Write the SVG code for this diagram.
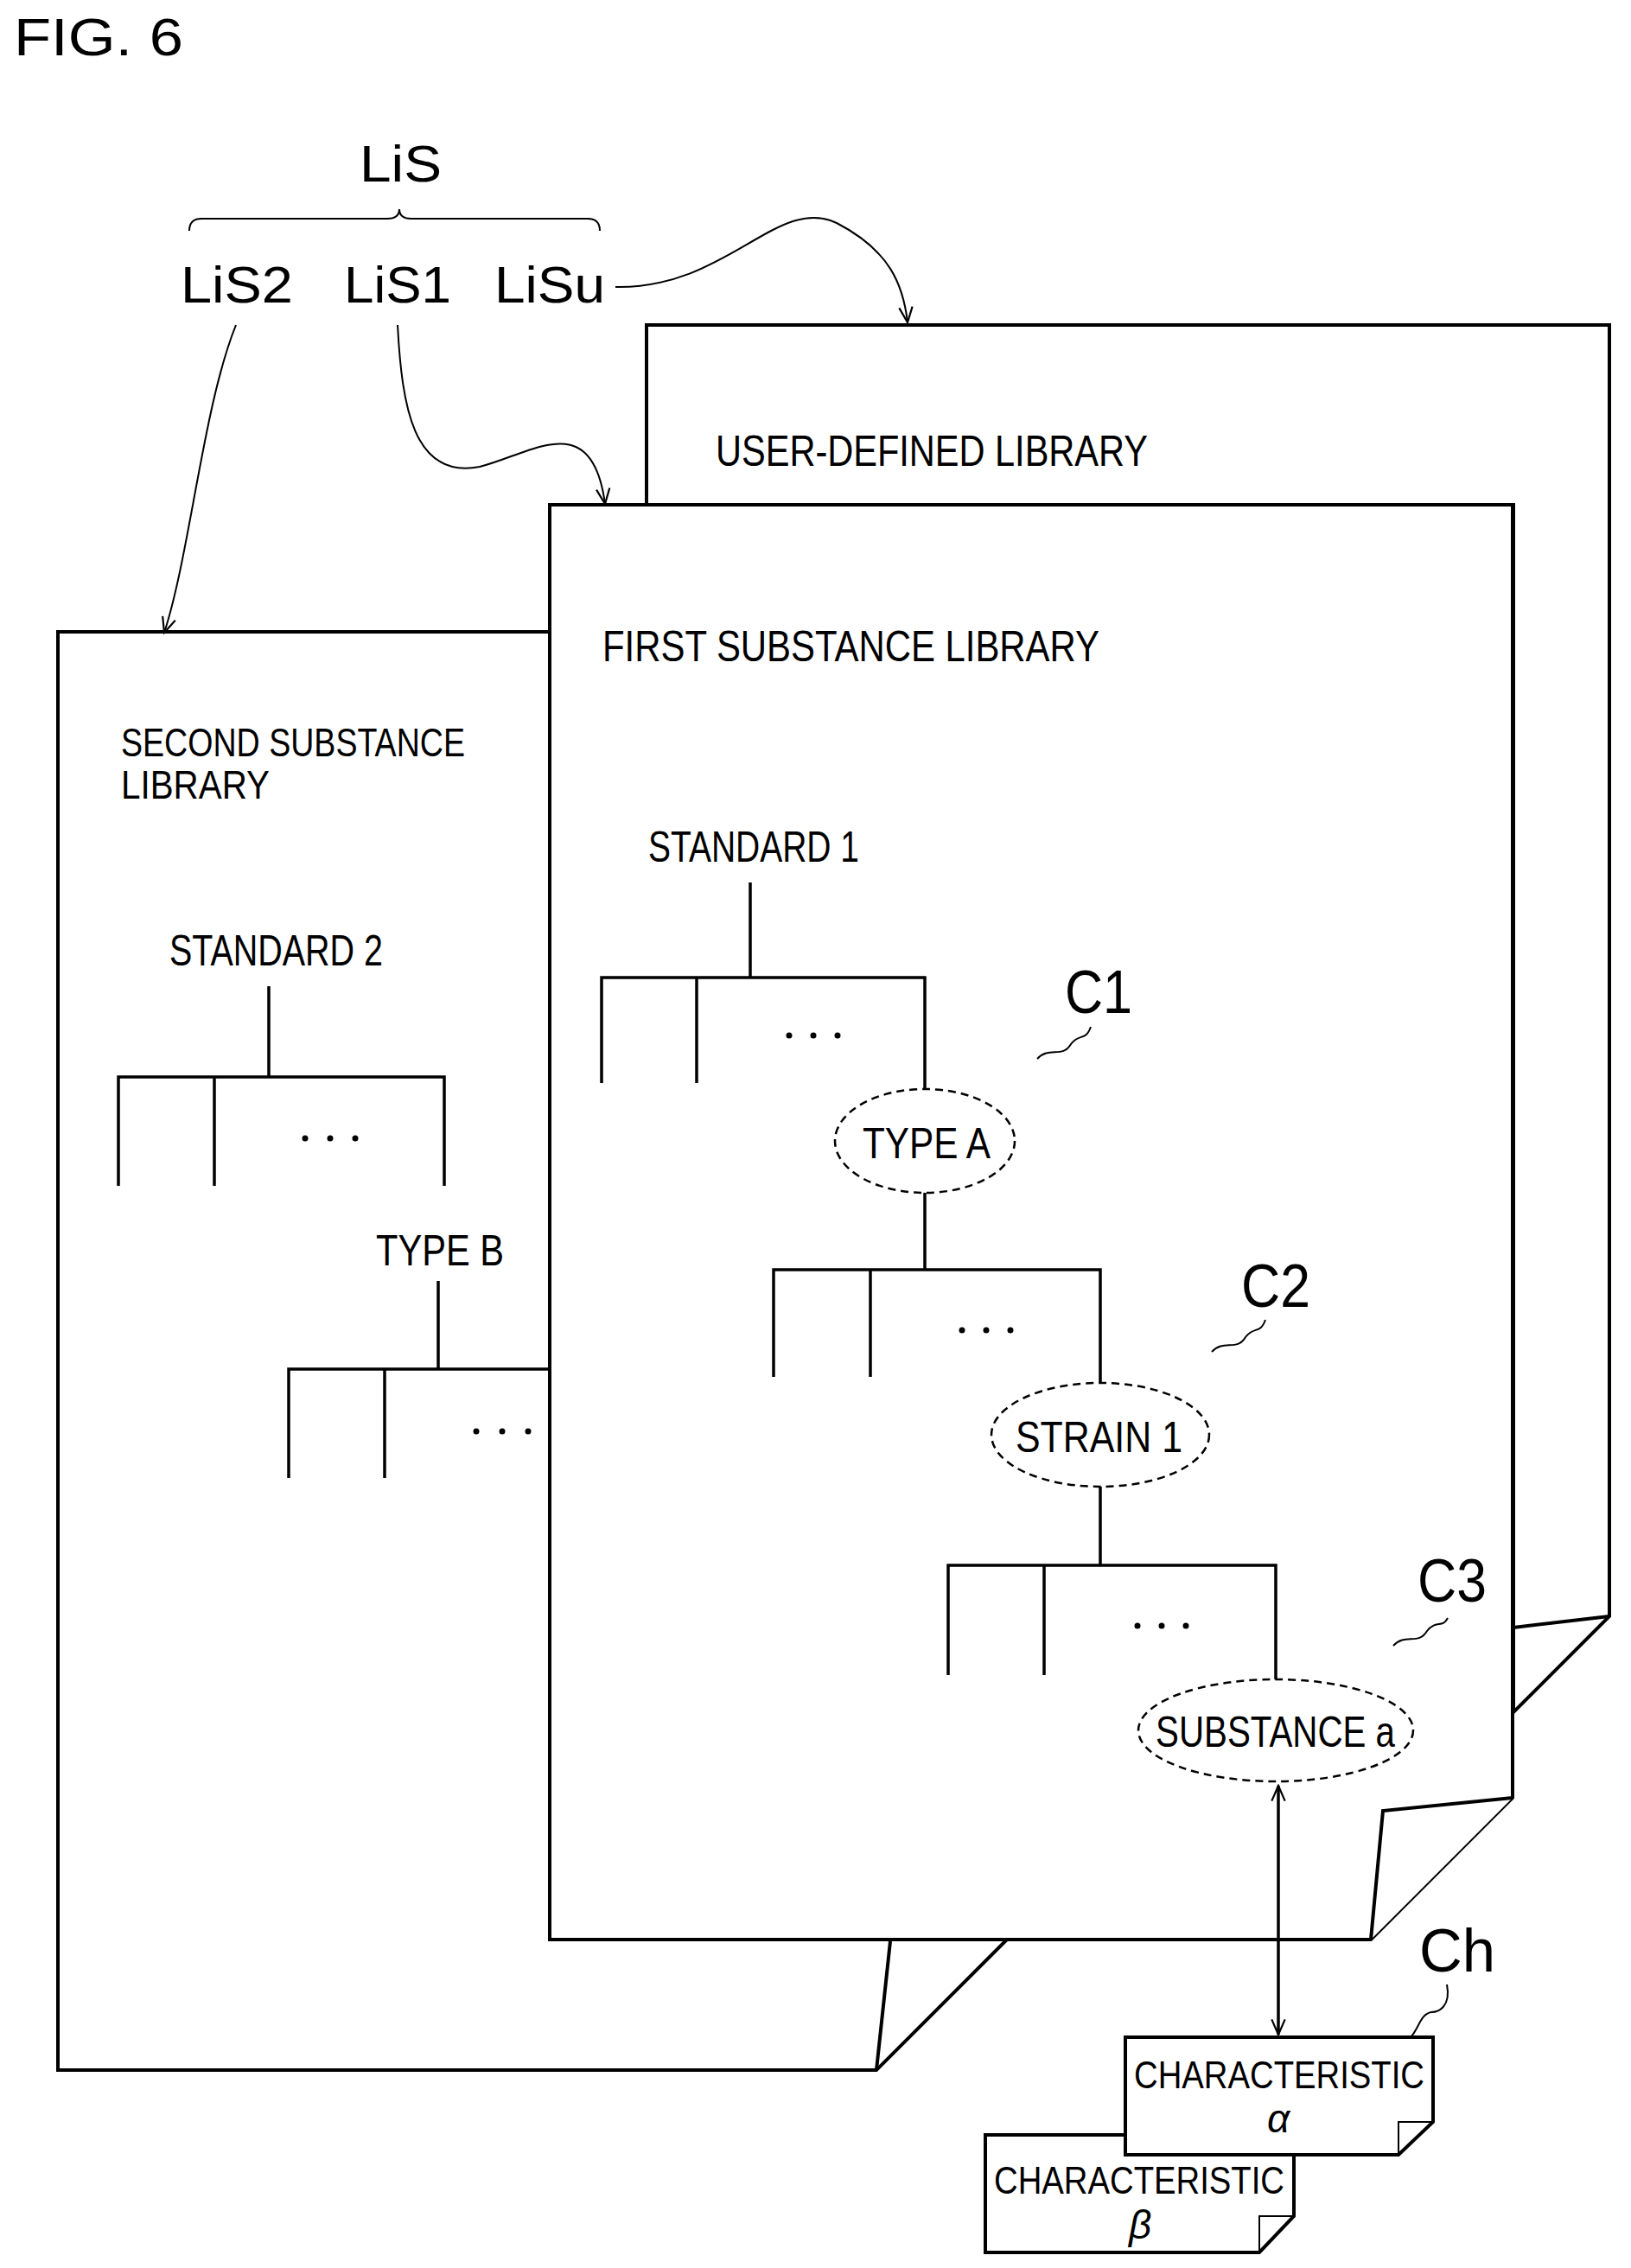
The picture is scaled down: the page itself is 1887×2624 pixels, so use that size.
<svg xmlns="http://www.w3.org/2000/svg" width="1887" height="2624" viewBox="0 0 1887 2624">
<style>
.pg{fill:#fff;stroke:#000;stroke-width:4;stroke-linejoin:miter}
.ln{fill:none;stroke:#000;stroke-width:3.5}
.th{fill:none;stroke:#000;stroke-width:2}
.el{fill:#fff;stroke:#000;stroke-width:2.5;stroke-dasharray:9,6}
.t{font-family:"Liberation Sans",Arial,sans-serif;fill:#000}
.c{font-family:"Liberation Sans",Arial,sans-serif;font-size:70px;fill:#000}
.big{font-family:"Liberation Sans",Arial,sans-serif;font-size:60px;fill:#000}
.dot{fill:#000}
</style>
<defs>
<marker id="ah" viewBox="0 0 20 20" refX="18" refY="10" markerWidth="22" markerHeight="22" markerUnits="userSpaceOnUse" orient="auto-start-reverse">
<path d="M2,3 L18,10 L2,17" fill="none" stroke="#000" stroke-width="2"/>
</marker>
</defs>
<rect width="1887" height="2624" fill="#fff"/>
<text class="t" x="16" y="64" font-size="62" textLength="196" lengthAdjust="spacingAndGlyphs">FIG. 6</text>

<g id="lis">
<text class="big" x="416" y="210" textLength="95" lengthAdjust="spacingAndGlyphs">LiS</text>
<path class="th" d="M219,267 Q219,253 233,253 L448,253 Q462,253 462,242 Q462,253 476,253 L680,253 Q694,253 694,267"/>
<text class="big" x="209" y="350" textLength="130" lengthAdjust="spacingAndGlyphs">LiS2</text>
<text class="big" x="398" y="350" textLength="124" lengthAdjust="spacingAndGlyphs">LiS1</text>
<text class="big" x="572" y="350" textLength="128" lengthAdjust="spacingAndGlyphs">LiSu</text>
</g>

<g id="user-library">
<path class="pg" d="M748,584 L748,376 L1862,376 L1862,1870 L1751,1981 L1751,584 Z"/>
<path class="pg" d="M1751,1883 L1862,1870"/>
<text class="t" x="828" y="539" font-size="50" textLength="500" lengthAdjust="spacingAndGlyphs">USER-DEFINED LIBRARY</text>
</g>

<g id="second-library">
<path class="pg" d="M636,731 L67,731 L67,2395 L1014,2395 L1165,2244 L636,2244 Z"/>
<path class="pg" d="M1014,2395 L1030,2246"/>
<text class="t" x="140" y="875" font-size="46" textLength="398" lengthAdjust="spacingAndGlyphs">SECOND SUBSTANCE</text>
<text class="t" x="140" y="924" font-size="46" textLength="172" lengthAdjust="spacingAndGlyphs">LIBRARY</text>
<text class="t" x="196" y="1117" font-size="50" textLength="247" lengthAdjust="spacingAndGlyphs">STANDARD 2</text>
<path class="ln" d="M311,1141 L311,1246 M137,1372 L137,1246 L514,1246 L514,1372 M248,1246 L248,1372"/>
<circle class="dot" cx="353" cy="1317" r="3.5"/><circle class="dot" cx="382" cy="1317" r="3.5"/><circle class="dot" cx="411" cy="1317" r="3.5"/>
<text class="t" x="435" y="1464" font-size="50" textLength="148" lengthAdjust="spacingAndGlyphs">TYPE B</text>
<path class="ln" d="M507,1482 L507,1584 M334,1710 L334,1584 L636,1584 M445,1584 L445,1710"/>
<circle class="dot" cx="551" cy="1656" r="3.5"/><circle class="dot" cx="581" cy="1656" r="3.5"/><circle class="dot" cx="611" cy="1656" r="3.5"/>
</g>

<g id="first-library">
<path class="pg" d="M636,584 L1750,584 L1750,2080 L1586,2244 L636,2244 Z"/>
<path class="pg" d="M1586,2244 L1600,2095 L1750,2080"/>
<text class="t" x="697" y="765" font-size="50" textLength="575" lengthAdjust="spacingAndGlyphs">FIRST SUBSTANCE LIBRARY</text>
<text class="t" x="750" y="997" font-size="50" textLength="244" lengthAdjust="spacingAndGlyphs">STANDARD 1</text>
<path class="ln" d="M868,1021 L868,1131 M696,1253 L696,1131 L1070,1131 L1070,1260 M806,1131 L806,1253"/>
<circle class="dot" cx="913" cy="1198" r="3.5"/><circle class="dot" cx="941" cy="1198" r="3.5"/><circle class="dot" cx="969" cy="1198" r="3.5"/>
</g>

<g id="type-a">
<ellipse class="el" cx="1070" cy="1320" rx="104" ry="60"/>
<text class="t" x="998" y="1340" font-size="50" textLength="148" lengthAdjust="spacingAndGlyphs">TYPE A</text>
<text class="c" x="1232" y="1172" textLength="78" lengthAdjust="spacingAndGlyphs">C1</text>
<path class="th" d="M1200,1225 C1214,1210 1229,1225 1239,1208 C1249,1195 1256,1205 1262,1188"/>
<path class="ln" d="M1070,1380 L1070,1469 M895,1593 L895,1469 L1273,1469 L1273,1600 M1007,1469 L1007,1593"/>
<circle class="dot" cx="1113" cy="1539" r="3.5"/><circle class="dot" cx="1141" cy="1539" r="3.5"/><circle class="dot" cx="1169" cy="1539" r="3.5"/>
</g>

<g id="strain-1">
<ellipse class="el" cx="1273" cy="1660" rx="126" ry="60"/>
<text class="t" x="1175" y="1680" font-size="50" textLength="193" lengthAdjust="spacingAndGlyphs">STRAIN 1</text>
<text class="c" x="1436" y="1512" textLength="80" lengthAdjust="spacingAndGlyphs">C2</text>
<path class="th" d="M1402,1564 C1416,1549 1431,1564 1441,1547 C1451,1534 1458,1544 1464,1527"/>
<path class="ln" d="M1273,1720 L1273,1811 M1097,1938 L1097,1811 L1476,1811 L1476,1943 M1208,1811 L1208,1938"/>
<circle class="dot" cx="1316" cy="1881" r="3.5"/><circle class="dot" cx="1344" cy="1881" r="3.5"/><circle class="dot" cx="1372" cy="1881" r="3.5"/>
</g>

<g id="substance-a">
<ellipse class="el" cx="1476" cy="2002" rx="159" ry="59"/>
<text class="t" x="1337" y="2021" font-size="50" textLength="277" lengthAdjust="spacingAndGlyphs">SUBSTANCE a</text>
<text class="c" x="1640" y="1853" textLength="80" lengthAdjust="spacingAndGlyphs">C3</text>
<path class="th" d="M1612,1904 C1626,1889 1641,1904 1651,1887 C1661,1874 1669,1884 1675,1872"/>
</g>

<g id="characteristic-beta">
<path class="pg" d="M1140,2470 L1497,2470 L1497,2564 L1457,2606 L1140,2606 Z"/>
<path class="th" d="M1497,2564 L1457,2564 L1457,2606"/>
<text class="t" x="1150" y="2538" font-size="44" textLength="336" lengthAdjust="spacingAndGlyphs">CHARACTERISTIC</text>
<text class="t" x="1306" y="2590" font-size="46" font-style="italic">β</text>
</g>

<g id="characteristic-alpha">
<path class="pg" d="M1302,2357 L1658,2357 L1658,2455 L1618,2493 L1302,2493 Z"/>
<path class="th" d="M1658,2455 L1618,2455 L1618,2493"/>
<text class="t" x="1312" y="2416" font-size="44" textLength="336" lengthAdjust="spacingAndGlyphs">CHARACTERISTIC</text>
<text class="t" x="1466" y="2467" font-size="46" font-style="italic">α</text>
<text class="c" x="1642" y="2281" textLength="88" lengthAdjust="spacingAndGlyphs">Ch</text>
<path class="th" d="M1674,2296 C1679,2322 1664,2328 1656,2328 C1644,2330 1642,2345 1633,2356"/>
</g>

<g id="connectors">
<path class="th" d="M712,332 C840,335 900,225 968,258 C1030,290 1045,330 1050,373" marker-end="url(#ah)"/>
<path class="th" d="M460,376 C465,470 478,555 555,540 C615,525 685,470 700,583" marker-end="url(#ah)"/>
<path class="th" d="M273,376 C235,470 220,640 190,732" marker-end="url(#ah)"/>
<path class="ln" d="M1479,2066 L1479,2354" marker-start="url(#ah)" marker-end="url(#ah)"/>
</g>
</svg>
